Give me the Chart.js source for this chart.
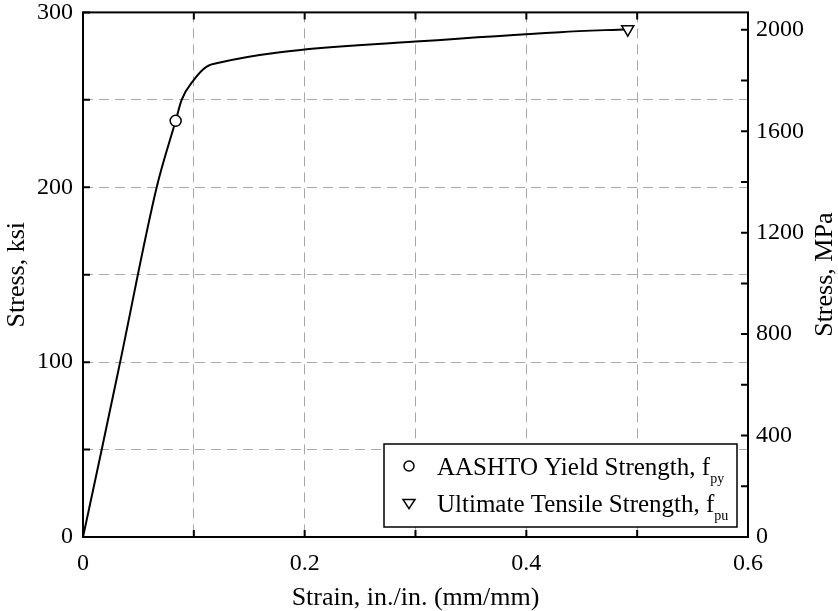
<!DOCTYPE html>
<html>
<head>
<meta charset="utf-8">
<script src="https://cdn.jsdelivr.net/npm/chart.js@4.4.0/dist/chart.umd.min.js"></script>
<style>
  html, body { margin: 0; padding: 0; background: #fff; }
  #wrap { width: 838px; height: 611px; }
</style>
</head>
<body>
<div id="wrap"><canvas id="stressChart"></canvas></div>
<script>
// stress-strain curve of the strand
var strain = [0, 0.0169, 0.0335, 0.0665, 0.0836, 0.089, 0.1, 0.1116, 0.1236, 0.1777, 0.3, 0.4304, 0.4915];
var stress = [0, 50, 100, 200, 238, 250, 261.4, 269, 271.3, 277.2, 283.3, 288.7, 290.4];

// marked points
var yieldStrain = [0.0836];
var yieldStress = [238];
var ultStrain = [0.4915];
var ultStress = [290.4];

// axis ticks
var strainTicks = [0, 0.1, 0.2, 0.3, 0.4, 0.5, 0.6];
var strainLabels = [0, 0.2, 0.4, 0.6];
var ksiTicks = [0, 50, 100, 150, 200, 250, 300];
var ksiLabels = [0, 100, 200, 300];
var mpaTicks = [0, 200, 400, 600, 800, 1000, 1200, 1400, 1600, 1800, 2000];
var mpaLabels = [0, 400, 800, 1200, 1600, 2000];

var KSI_TO_MPA = 6.894757;
var FONT = "'Liberation Serif', 'Times New Roman', serif";

function pts(xs, ys) {
	var out = [];
	for (var i = 0; i < xs.length; i++) out.push({x: xs[i], y: ys[i]});
	return out;
}

function setTicks(list) {
	return function(scale) {
		scale.ticks = list.map(function(v) { return {value: v}; });
	};
}

function showOnly(list) {
	return function(value) {
		return list.indexOf(value) >= 0 ? String(value) : '';
	};
}

// frame, inward tick marks and the MPa axis title
var frameTicks = {
	id: 'frameTicks',
	afterDatasetsDraw: function(chart) {
		var ctx = chart.ctx, a = chart.chartArea;
		var x = chart.scales.x, y = chart.scales.y, y2 = chart.scales.y2;
		var len = 7;
		ctx.save();
		ctx.strokeStyle = '#000';
		ctx.lineWidth = 2;
		ctx.beginPath();
		strainTicks.forEach(function(v) {
			var px = x.getPixelForValue(v);
			ctx.moveTo(px, a.bottom); ctx.lineTo(px, a.bottom - len);
			ctx.moveTo(px, a.top); ctx.lineTo(px, a.top + len);
		});
		ksiTicks.forEach(function(v) {
			var py = y.getPixelForValue(v);
			ctx.moveTo(a.left, py); ctx.lineTo(a.left + len, py);
		});
		mpaTicks.forEach(function(v) {
			var py = y2.getPixelForValue(v);
			ctx.moveTo(a.right, py); ctx.lineTo(a.right - len, py);
		});
		ctx.stroke();
		ctx.strokeRect(a.left, a.top, a.right - a.left, a.bottom - a.top);

		// right title reads bottom-to-top like the left one
		ctx.translate(chart.width - 13, (a.top + a.bottom) / 2);
		ctx.rotate(-Math.PI / 2);
		ctx.fillStyle = '#000';
		ctx.font = '26px ' + FONT;
		ctx.textAlign = 'center';
		ctx.textBaseline = 'middle';
		ctx.fillText('Stress, MPa', 0, 0);
		ctx.restore();
	}
};

function drawTri(ctx, cx, cy, r) {
	ctx.beginPath();
	ctx.moveTo(cx - r, cy - r * 0.6);
	ctx.lineTo(cx + r, cy - r * 0.6);
	ctx.lineTo(cx, cy + r * 0.95);
	ctx.closePath();
}

// legend box with subscripts
var subLegend = {
	id: 'subLegend',
	afterDraw: function(chart) {
		var ctx = chart.ctx, a = chart.chartArea;
		var right = a.right - 11, bottom = a.bottom - 10;
		var w = 353, h = 83;
		var left = right - w, top = bottom - h;
		ctx.save();
		ctx.fillStyle = '#fff';
		ctx.fillRect(left, top, w, h);
		ctx.strokeStyle = '#000';
		ctx.lineWidth = 1.5;
		ctx.strokeRect(left, top, w, h);

		var rows = [
			{main: 'AASHTO Yield Strength, f', sub: 'py', shape: 'circle'},
			{main: 'Ultimate Tensile Strength, f', sub: 'pu', shape: 'tri'}
		];
		rows.forEach(function(r, i) {
			var cy = top + 22 + i * 37;
			var mx = left + 25;
			ctx.lineWidth = 1.5;
			if (r.shape === 'circle') {
				ctx.beginPath();
				ctx.arc(mx, cy, 5, 0, Math.PI * 2);
				ctx.stroke();
			} else {
				drawTri(ctx, mx, cy, 6);
				ctx.stroke();
			}
			ctx.fillStyle = '#000';
			ctx.textBaseline = 'alphabetic';
			ctx.font = '25px ' + FONT;
			var tx = left + 53;
			ctx.fillText(r.main, tx, cy + 9);
			var tw = ctx.measureText(r.main).width;
			ctx.font = '14px ' + FONT;
			ctx.fillText(r.sub, tx + tw, cy + 17);
		});
		ctx.restore();
	}
};

var ctx = document.getElementById('stressChart');
var chart = new Chart(ctx, {
	type: 'scatter',
	data: {
		datasets: [{
			label: 'curve',
			data: pts(strain, stress),
			showLine: true,
			borderColor: '#000',
			borderWidth: 2,
			pointRadius: 0,
			cubicInterpolationMode: 'monotone',
			order: 2
		}, {
			label: 'AASHTO Yield Strength',
			data: pts(yieldStrain, yieldStress),
			pointStyle: 'circle',
			pointRadius: 5.5,
			pointBackgroundColor: '#fff',
			pointBorderColor: '#000',
			pointBorderWidth: 1.5,
			order: 1
		}, {
			label: 'Ultimate Tensile Strength',
			data: pts(ultStrain, ultStress),
			pointStyle: 'triangle',
			rotation: 180,
			pointRadius: 7,
			pointBackgroundColor: '#fff',
			pointBorderColor: '#000',
			pointBorderWidth: 1.5,
			order: 1
		}]
	},
	options: {
		responsive: true,
		maintainAspectRatio: false,
		animation: false,
		layout: { padding: 0 },
		plugins: {
			legend: { display: false },
			tooltip: { enabled: false }
		},
		scales: {
			x: {
				type: 'linear',
				min: 0, max: 0.6,
				afterBuildTicks: setTicks(strainTicks),
				afterFit: function(s) { s.height = 74; },
				grid: { color: '#a8a8a8', lineWidth: 1, drawTicks: false },
				border: { display: false, dash: [10, 6] },
				ticks: {
					autoSkip: false, maxRotation: 0, padding: 12,
					color: '#000', font: { family: FONT, size: 24 },
					callback: showOnly(strainLabels)
				},
				title: {
					display: true, text: 'Strain, in./in. (mm/mm)', color: '#000',
					font: { family: FONT, size: 26, lineHeight: 1.0 }, padding: { top: 0, bottom: 0 }
				}
			},
			y: {
				type: 'linear', position: 'left',
				min: 0, max: 300,
				afterBuildTicks: setTicks(ksiTicks),
				afterFit: function(s) { s.width = 83; },
				grid: { color: '#a8a8a8', lineWidth: 1, drawTicks: false },
				border: { display: false, dash: [10, 6] },
				ticks: {
					autoSkip: false, padding: 10,
					color: '#000', font: { family: FONT, size: 24, lineHeight: 0.2 },
					callback: showOnly(ksiLabels)
				},
				title: {
					display: true, text: 'Stress, ksi', color: '#000',
					font: { family: FONT, size: 26 }, padding: { top: 2, bottom: 0 }
				}
			},
			y2: {
				type: 'linear', position: 'right',
				min: 0, max: 300 * KSI_TO_MPA,
				afterBuildTicks: setTicks(mpaTicks),
				afterFit: function(s) { s.width = 90; },
				grid: { display: false, drawTicks: false },
				border: { display: false },
				ticks: {
					autoSkip: false, padding: 8,
					color: '#000', font: { family: FONT, size: 24, lineHeight: 0.2 },
					callback: showOnly(mpaLabels)
				},
				title: { display: false }
			}
		}
	},
	plugins: [frameTicks, subLegend]
});
</script>
</body>
</html>
